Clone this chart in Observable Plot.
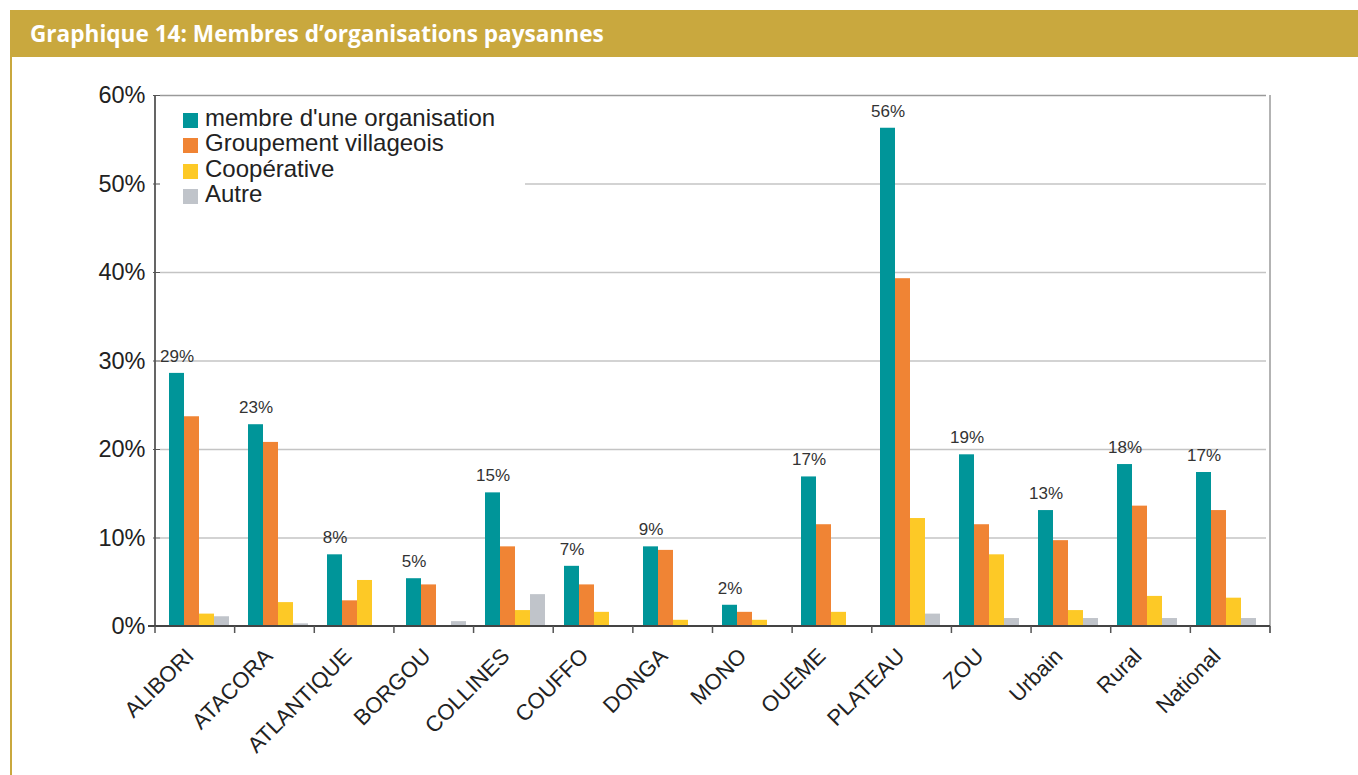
<!DOCTYPE html>
<html><head><meta charset="utf-8">
<script src="https://cdn.jsdelivr.net/npm/d3@7"></script>
<script src="https://cdn.jsdelivr.net/npm/@observablehq/plot@0.6"></script>
<style>
body{margin:0;background:#fff;font-family:"Liberation Sans",Arial,sans-serif}
#wrap{position:relative;width:1358px;height:775px;overflow:hidden;background:#fff}
#hdr{position:absolute;left:10px;top:10px;width:1348px;height:47px;background:#c9a83e;color:#fff;font-family:"Open Sans",sans-serif;font-weight:bold;font-size:22.6px;line-height:47px;padding-left:20px;box-sizing:border-box;white-space:nowrap}
#vbar{position:absolute;left:10px;top:57px;width:2px;height:718px;background:#c9a83e}
#chart{position:absolute;left:0;top:57px}
#legend{position:absolute;left:160px;top:101px;width:365px;height:104px;background:#fff}
.item{position:absolute;left:23px;height:26px;font-size:24px;color:#222;white-space:nowrap}
.sw{position:absolute;left:0;top:4px;width:15px;height:15px}
.lb{position:absolute;left:22px;top:-4px;line-height:26px}
</style></head>
<body>
<div id="wrap">
  <div id="hdr">Graphique 14: Membres d’organisations paysannes</div>
  <div id="vbar"></div>
  <div id="chart"></div>
  <div id="legend"></div>
</div>
<script>
const categories = ["ALIBORI","ATACORA","ATLANTIQUE","BORGOU","COLLINES","COUFFO","DONGA","MONO","OUEME","PLATEAU","ZOU","Urbain","Rural","National"];
const series = ["membre d'une organisation","Groupement villageois","Coopérative","Autre"];
const colors = ["#009599","#f08434","#fdc926","#c0c4ca"];
const membre      = [28.6, 22.8, 8.1, 5.4, 15.1, 6.8, 9.0, 2.4, 16.9, 56.3, 19.4, 13.1, 18.3, 17.4];
const groupement  = [23.7, 20.8, 2.9, 4.7, 9.0, 4.7, 8.6, 1.6, 11.5, 39.3, 11.5, 9.7, 13.6, 13.1];
const cooperative = [1.4, 2.7, 5.2, 0, 1.8, 1.6, 0.7, 0.7, 1.6, 12.2, 8.1, 1.8, 3.4, 3.2];
const autre       = [1.1, 0.3, 0, 0.55, 3.6, 0, 0, 0, 0, 1.4, 0.9, 0.9, 0.9, 0.9];
const yTicks = [0, 10, 20, 30, 40, 50, 60];

const valuesBySeries = [membre, groupement, cooperative, autre];
const data = categories.flatMap((c, i) => series.map((s, k) => ({cat: c, s, v: valuesBySeries[k][i]})));
const labelData = data.filter(d => d.s === series[0]);

const chart = Plot.plot({
  width: 1358, height: 718,
  marginTop: 38, marginLeft: 155, marginRight: 88, marginBottom: 149,
  style: {fontFamily: "Liberation Sans, Arial, sans-serif", background: "transparent"},
  fx: {domain: categories, padding: 0, label: null},
  x: {domain: series, paddingInner: 0, paddingOuter: 0.62, align: 0.45, axis: null},
  y: {domain: [0, 60], label: null},
  color: {domain: series, range: colors},
  marks: [
    Plot.ruleY(yTicks.filter(t => t > 0 && t < 60), {stroke: "#c4c4c4", strokeWidth: 1.5}),
    Plot.ruleY([60], {stroke: "#9a9a9a", strokeWidth: 1.5}),
    Plot.barY(data, {fx: "cat", x: "s", y: "v", fill: "s"}),
    Plot.text(labelData, {fx: "cat", x: "s", y: "v", text: d => Math.round(d.v) + "%", dy: -17, fontSize: 17, fill: "#333"}),
    Plot.axisY({ticks: yTicks, tickFormat: d => d + "%", tickSize: 7, tickPadding: 8, fontSize: 23.5, fill: "#222", stroke: "#555", label: null}),
    Plot.axisFx({anchor: "bottom", tickRotate: -45, tickSize: 0, tickPadding: 26, dx: -10, fontSize: 22, fill: "#222", label: null})
  ]
});
document.getElementById("chart").appendChild(chart);

// axis lines and category boundary ticks, derived from the plot's own scales
const fxs = chart.scale("fx"), ys = chart.scale("y");
const band = d3.scaleBand(fxs.domain, fxs.range).paddingInner(fxs.paddingInner || 0).paddingOuter(fxs.paddingOuter || 0).align(fxs.align ?? 0.5);
const yl = d3.scaleLinear(ys.domain, ys.range);
const [x0, x1] = fxs.range;
const g = d3.select(chart).append("g");
g.append("line").attr("x1", x1).attr("x2", x1).attr("y1", yl(60)).attr("y2", yl(0) + 7).attr("stroke", "#9a9a9a").attr("stroke-width", 1.5);
g.append("line").attr("x1", x0).attr("x2", x0).attr("y1", yl(60)).attr("y2", yl(0)).attr("stroke", "#555").attr("stroke-width", 1.8);
g.append("line").attr("x1", x0 - 7).attr("x2", x1).attr("y1", yl(0)).attr("y2", yl(0)).attr("stroke", "#444").attr("stroke-width", 2);
categories.map(c => band(c)).concat([x1]).forEach(x => {
  g.append("line").attr("x1", x).attr("x2", x).attr("y1", yl(0)).attr("y2", yl(0) + 7).attr("stroke", "#555").attr("stroke-width", 1.5);
});

// legend
const lg = d3.select("#legend");
series.forEach((s, k) => {
  const it = lg.append("div").attr("class", "item").style("top", (8 + k * 25.3) + "px");
  it.append("div").attr("class", "sw").style("background", colors[k]);
  it.append("div").attr("class", "lb").text(s);
});
</script>
</body></html>
